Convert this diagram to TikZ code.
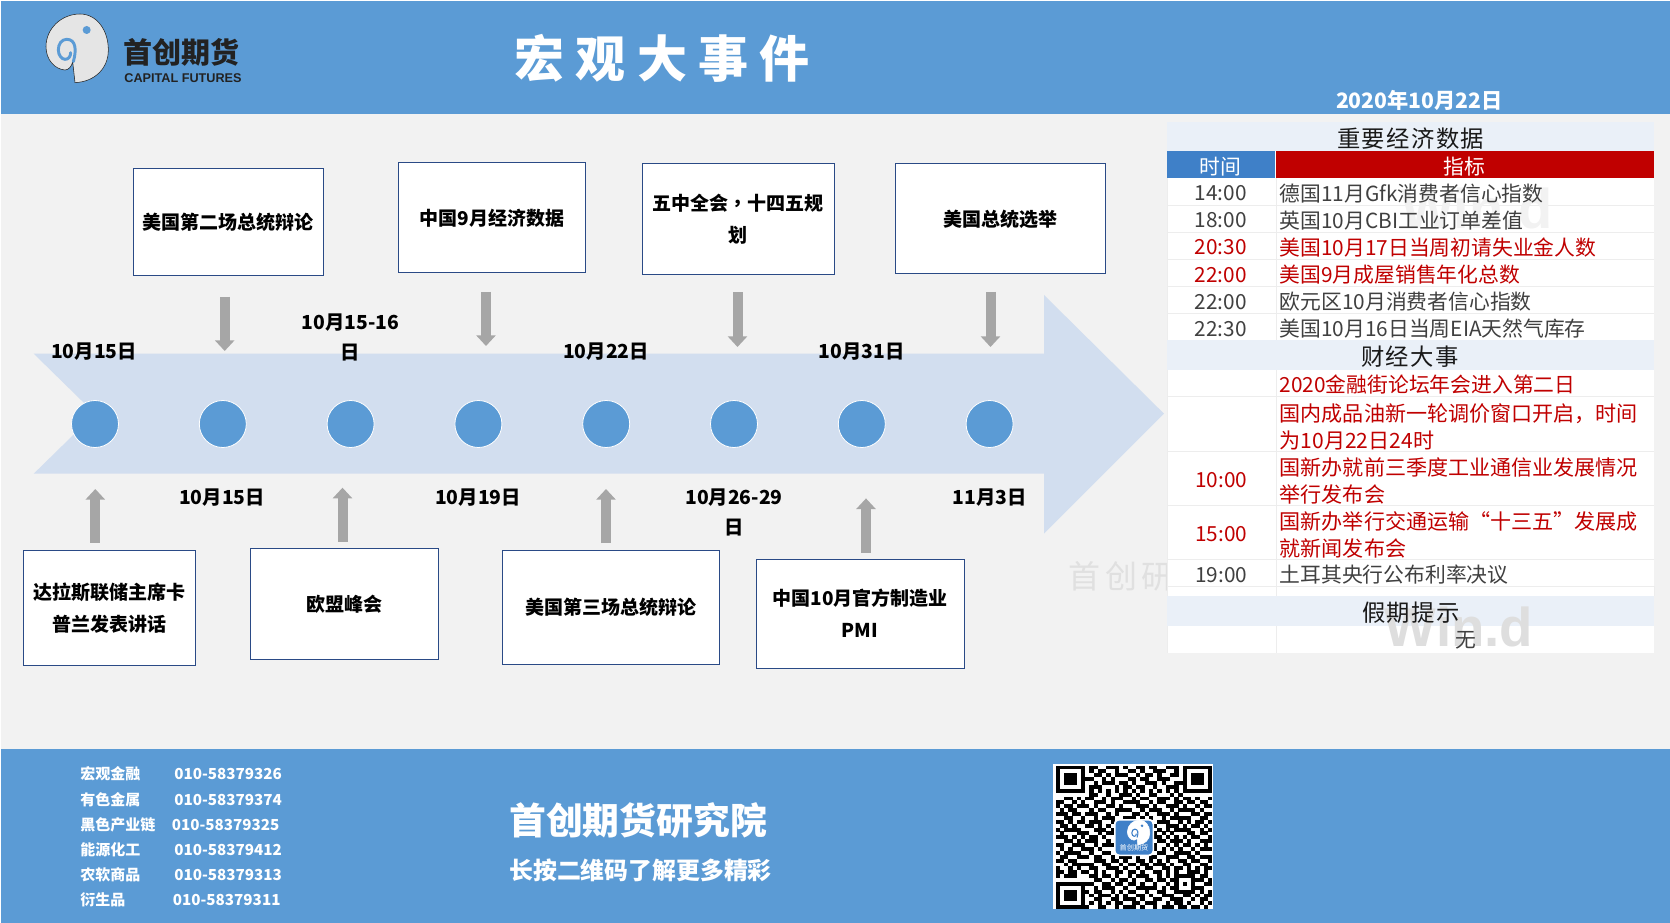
\documentclass[tikz,border=0pt]{standalone}
\usepackage{fontspec}
\usetikzlibrary{arrows.meta}
\setmainfont{Noto Sans CJK SC}
\newfontfamily\latinbold{Liberation Sans}
\newfontfamily\tcfont{Noto Sans CJK TC}
\definecolor{hdrblue}{HTML}{5B9BD5}
\definecolor{canvas}{HTML}{F2F2F2}
\definecolor{barblue}{HTML}{D2DEEF}
\definecolor{bandblue}{HTML}{EAF0F8}
\definecolor{thblue}{HTML}{3F80C8}
\definecolor{thred}{HTML}{C00000}
\definecolor{cellgray}{HTML}{404040}
\definecolor{gridgray}{HTML}{EDEDED}
\definecolor{arrowgray}{HTML}{A6A6A6}
\definecolor{boxline}{HTML}{2A4A86}
\definecolor{logotext}{HTML}{222222}
\tikzset{
  lbl/.style={font=\fontsize{14.5pt}{22.5pt}\selectfont\bfseries,align=center,inner sep=0,text=black},
  evbox/.style={draw=boxline,fill=white,line width=.75pt,align=center,inner sep=0,
    font=\fontsize{14.25pt}{24pt}\selectfont\bfseries,text=black},
  dot/.style={circle,fill=hdrblue,draw=white,line width=.6pt,minimum size=35.25pt,inner sep=0},
  grayarr/.style={draw=arrowgray,line width=7.5pt,-{Triangle[length=8pt,width=14.25pt]}},
  cellt/.style={anchor=west,inner sep=0,align=left,font=\fontsize{15.6pt}{20.25pt}\selectfont},
  cellw/.style={anchor=west,inner sep=0,align=left,font=\fontsize{15.8pt}{20.25pt}\selectfont},
  timet/.style={inner sep=0,font=\fontsize{15.6pt}{20.25pt}\selectfont},
  bandt/.style={inner sep=0,font=\fontsize{17.5pt}{20pt}\selectfont\addfontfeature{LetterSpace=6},text=black!90},
  thead/.style={inner sep=0,text=white,font=\fontsize{15.6pt}{20pt}\selectfont},
  footl/.style={anchor=west,inner sep=0,text=white,font=\fontsize{11.25pt}{14pt}\selectfont\bfseries},
  footn/.style={anchor=west,inner sep=0,text=white,font=\fontsize{11.4pt}{14pt}\selectfont\bfseries},
}
% event box: name, x1, y1, x2, y2, text
\newcommand{\evnode}[6]{\node[evbox,minimum width={(#4-#2)*.75pt},minimum height={(#5-#3)*.75pt}]
  (#1) at ({(#2+#4)/2},{(#3+#5)/2}) {#6};}
% block arrow: name, x, tail y, tip y
\newcommand{\gararrow}[4]{\coordinate (#1t) at (#2,#3);\coordinate (#1h) at (#2,#4);\draw[grayarr] (#1t) -- (#1h);}
% logo, drawn in units of a quarter point
\newcommand{\logoart}[4]{%
  \path[fill=#1,draw=#2,line width=.4pt] (165,248) .. controls (225,245) and (265,205) .. (265,150)
    .. controls (265,90) and (230,42) .. (180,42)
    .. controls (125,42) and (78,85) .. (78,140)
    .. controls (78,180) and (105,208) .. (135,210)
    .. controls (145,210) and (155,200) .. (158,185) -- cycle;
  \draw[#3,line width=#4,line cap=round] (160,185) .. controls (170,150) and (168,118) .. (140,118)
    .. controls (125,118) and (115,132) .. (115,150)
    .. controls (115,165) and (125,178) .. (135,178)
    .. controls (145,178) and (152,170) .. (152,158);
  \fill[#3] (200,90) circle (12);
}
\makeatletter
\newcount\qrx \newcount\qry
\def\qrline#1{\qrx=0 \qr@scan#1\relax \advance\qry by 1 }
\def\qr@scan#1{\ifx#1\relax\else\if#11\fill[black] ({1055.5+\the\qrx*4.24},{765.5+\the\qry*3.88}) rectangle +(4.3,3.95);\fi\advance\qrx by 1 \expandafter\qr@scan\fi}
\makeatother
\begin{document}
\begin{tikzpicture}[x=.75pt,y=-.75pt]
\useasboundingbox (0,0) rectangle (1670,923);
\fill[white] (0,0) rectangle (1670,923);
\fill[canvas] (1,1) rectangle (1670,923);
% bands
\fill[hdrblue] (1,1) rectangle (1670,114);
\fill[hdrblue] (1,749) rectangle (1670,923);
% logo
\begin{scope}[shift={(20,0)},x=.25pt,y=-.25pt]
\logoart{white!90!black}{logotext}{hdrblue}{2.2pt}
\end{scope}
\node[inner sep=0,text=logotext,font=\fontsize{21.75pt}{24pt}\selectfont\bfseries] (brand) at (181,52) {首创期货};
\node[inner sep=0,text=logotext,font=\fontsize{9.5pt}{10pt}\latinbold\bfseries] (brandlat) at (183,78.5) {CAPITAL FUTURES};
% title and date
\node[inner sep=0,text=white,font=\fontsize{37.5pt}{40pt}\selectfont\bfseries] (title) at (662,58) {宏 观 大 事 件};
\node[inner sep=0,text=white,font=\fontsize{15.9pt}{20pt}\selectfont\bfseries] (date) at (1419.5,100) {2020年10月22日};
\begin{scope}[shift={(0,1)}]
% big arrow
\fill[barblue] (33.7,352.7) -- (1044,352.7) -- (1044,294) -- (1164,412.7) -- (1044,532.5) -- (1044,472.7) -- (33.7,472.7) -- (95,412.7) -- cycle;
% dots
\foreach \i/\x in {1/95,2/222.8,3/350.6,4/478.4,5/606.2,6/734,7/861.8,8/989.6}{
  \node[dot] (d\i) at (\x,423) {};
}
% date labels
\node[lbl] (t1) at (94,350.7) {10月15日};
\node[lbl] (t3) at (350.5,336.5) {10月15-16\\日};
\node[lbl] (t5) at (606,350.7) {10月22日};
\node[lbl] (t7) at (861.8,350.7) {10月31日};
\node[lbl] (t2) at (222,496.7) {10月15日};
\node[lbl] (t4) at (478,496.7) {10月19日};
\node[lbl] (t6) at (734,511) {10月26-29\\日};
\node[lbl] (t8) at (989.6,496.7) {11月3日};
% event boxes
\evnode{ba}{133.4}{167.7}{323.5}{274.7}{美国第二场总统辩论}
\evnode{bb}{398.5}{162}{585.4}{271.7}{中国9月经济数据}
\evnode{bc}{642.2}{162.7}{834.5}{273.7}{五中全会{\tcfont\bfseries ，}十四五规\\划}
\evnode{bd}{895.7}{163}{1105.5}{272.7}{美国总统选举}
\evnode{be}{23.7}{549.3}{195.2}{664.3}{达拉斯联储主席卡\\普兰发表讲话}
\evnode{bf}{250.7}{547.3}{438.6}{658.3}{欧盟峰会}
\evnode{bg}{502.5}{549.5}{719}{663.5}{美国第三场总统辩论}
\evnode{bh}{756}{558}{964}{667}{中国10月官方制造业\\PMI}
% gray block arrows
\gararrow{aa}{224.7}{296}{350}
\gararrow{ab}{486}{291}{345}
\gararrow{ac}{737.5}{291.5}{346}
\gararrow{ad}{990.5}{291}{346}
\gararrow{ae}{95.3}{541.7}{488}
\gararrow{af}{342.5}{540.7}{486.7}
\gararrow{ag}{606}{542}{488}
\gararrow{ah}{866}{551.7}{497.4}
% watermark behind the table
\node[anchor=west,inner sep=0,text=black!12,font=\fontsize{24pt}{26pt}\selectfont\addfontfeature{LetterSpace=15}] (wm1) at (1068,575) {首创研};
% table background
\fill[white] (1167,120.7) rectangle (1654,651.7);
\fill[bandblue] (1167,120.7) rectangle (1654,150);
\fill[thblue] (1167,150) rectangle (1275,177.3);
\fill[thred] (1276,150) rectangle (1654,177.3);
\draw[gridgray,line width=.75pt] (1276,177.3) -- (1276,651.7) (1167,177.3) -- (1167,651.7)
  (1167,204.3) -- (1654,204.3) (1167,231.5) -- (1654,231.5) (1167,258.3) -- (1654,258.3)
  (1167,285.3) -- (1654,285.3) (1167,312.3) -- (1654,312.3)
  (1167,396) -- (1654,396) (1167,450) -- (1654,450) (1167,504.3) -- (1654,504.3)
  (1167,558.3) -- (1654,558.3) (1167,585) -- (1654,585) (1654,585) -- (1654,595);
\fill[bandblue] (1167,339.3) rectangle (1654,369);
\fill[bandblue] (1167,595) rectangle (1654,625);
% Wind watermarks
\node[inner sep=0,text=black!5,font=\fontsize{42pt}{44pt}\latinbold\bfseries] (wm2) at (1477,207) {Win.d};
\node[inner sep=0,text=black!13,font=\fontsize{41pt}{44pt}\latinbold\bfseries] (wm3) at (1459,626) {Win.d};
% table text
\node[bandt] (h1) at (1410.7,137.3) {重要经济数据};
\node[thead] (h2) at (1220.7,165.7) {时间};
\node[thead] (h3) at (1464,165.7) {指标};
\node[timet,text=cellgray] (r1t) at (1220.7,192.5) {14:00};
\node[cellt,text=cellgray] (r1) at (1279.5,192.5) {德国11月Gfk消费者信心指数};
\node[timet,text=cellgray] (r2t) at (1220.7,219.5) {18:00};
\node[cellt,text=cellgray] (r2) at (1279.5,219.5) {英国10月CBI工业订单差值};
\node[timet,text=thred] (r3t) at (1220.7,246.5) {20:30};
\node[cellt,text=thred] (r3) at (1279.5,246.5) {美国10月17日当周初请失业金人数};
\node[timet,text=thred] (r4t) at (1220.7,273.7) {22:00};
\node[cellt,text=thred] (r4) at (1279.5,273.7) {美国9月成屋销售年化总数};
\node[timet,text=cellgray] (r5t) at (1220.7,300.7) {22:00};
\node[cellt,text=cellgray] (r5) at (1279.5,300.7) {欧元区10月消费者信心指数};
\node[timet,text=cellgray] (r6t) at (1220.7,327.7) {22:30};
\node[cellt,text=cellgray] (r6) at (1279.5,327.7) {美国10月16日当周EIA天然气库存};
\node[bandt] (h4) at (1410,356) {财经大事};
\node[cellt,text=thred] (e1) at (1279.5,384) {2020金融街论坛年会进入第二日};
\node[cellw,text=thred] (e2) at (1279.5,425.5) {国内成品油新一轮调价窗口开启，时间\\为10月22日24时};
\node[timet,text=thred] (e3t) at (1221.4,479) {10:00};
\node[cellw,text=thred] (e3) at (1279.5,479.5) {国新办就前三季度工业通信业发展情况\\举行发布会};
\node[timet,text=thred] (e4t) at (1221.4,533) {15:00};
\node[cellw,text=thred] (e4) at (1279.5,533.5) {国新办举行交通运输“十三五”发展成\\就新闻发布会};
\node[timet,text=cellgray] (e5t) at (1221.4,574) {19:00};
\node[cellt,text=cellgray] (e5) at (1279.5,574) {土耳其央行公布利率决议};
\node[bandt] (h5) at (1411,611.7) {假期提示};
\node[timet,text=cellgray] (e6) at (1466,639) {无};
% footer
\foreach \n/\y/\l/\nx/\t in {f1/772.7/宏观金融/174/010-58379326,f2/799/有色金属/174/010-58379374,f3/824/黑色产业链/171.5/010-58379325,f4/849/能源化工/174/010-58379412,f5/873.7/农软商品/174/010-58379313,f6/898.7/衍生品/172.6/010-58379311}{
  \node[footl] (\n a) at (80,\y) {\l};
  \node[footn] (\n b) at (\nx,\y) {\t};
}
\node[anchor=west,inner sep=0,text=white,font=\fontsize{27.6pt}{30pt}\selectfont\bfseries] (inst) at (509,819.3) {首创期货研究院};
\node[anchor=west,inner sep=0,text=white,font=\fontsize{17.9pt}{20pt}\selectfont\bfseries] (scan) at (509,869) {长按二维码了解更多精彩};
\end{scope}
% QR code
\fill[white] (1053.3,764) rectangle (1213.3,909.3);
\qry=0
\qrline{1111111011001110100110110011101111111}
\qrline{1000001010110010011010011100101000001}
\qrline{1011101001101011100101101001101011101}
\qrline{1011101110010100011011001110001011101}
\qrline{1011101001011101101001110100111011101}
\qrline{1000001011100010110110010011101000001}
\qrline{1111111010101010101010101010101111111}
\qrline{0000000011001001110100110001010000000}
\qrline{0011010110010111001011001110101101001}
\qrline{1100101001110100111100101100110110110}
\qrline{1011011101001101000111010011101001011}
\qrline{0101100010110011110010111001011110100}
\qrline{1110110111001010001101001110100011011}
\qrline{0011001001011100111010100101111100110}
\qrline{1101011011100101100110101110010101101}
\qrline{0110100110101010011001010011101011010}
\qrline{1011110001110111010110001010111100101}
\qrline{0100011100101100101011110101000110110}
\qrline{1110101011010011011100011010101011001}
\qrline{0011010111001010100101101101110100111}
\qrline{1100111001011101001110010010101101010}
\qrline{0101001110100010110011110101010010111}
\qrline{1011110010011011001101001100111101000}
\qrline{0110011101100101110100110011100110111}
\qrline{1101100001110110100110101010011011001}
\qrline{0010111110011001011011011101001100110}
\qrline{1001010011001110100101100110110101011}
\qrline{1101101101010011011010011010100111010}
\qrline{1011100011011010010111001010111110110}
\qrline{0000000001100101101001101101100011101}
\qrline{1111111110011011011010010010101010011}
\qrline{1000001001011100100111110101100011100}
\qrline{1011101101100101011001001100111110101}
\qrline{1011101010111010100110100111001101011}
\qrline{1011101001100110111010011001110010110}
\qrline{1000001010101011001101110010110100101}
\qrline{1111111100110010111010010111011011010}
% QR centre badge
\fill[white,rounded corners=3pt] (1114,819) rectangle (1154,856);
\fill[thblue,rounded corners=3pt] (1115.5,820.5) rectangle (1152.5,854.5);
\begin{scope}[shift={(1118,815)},x=.09pt,y=-.09pt]
\logoart{white}{white}{thblue}{.8pt}
\end{scope}
\node[inner sep=0,text=white,font=\fontsize{5.4pt}{6pt}\selectfont] (qrbrand) at (1134,848) {首创期货};
\end{tikzpicture}
\end{document}
